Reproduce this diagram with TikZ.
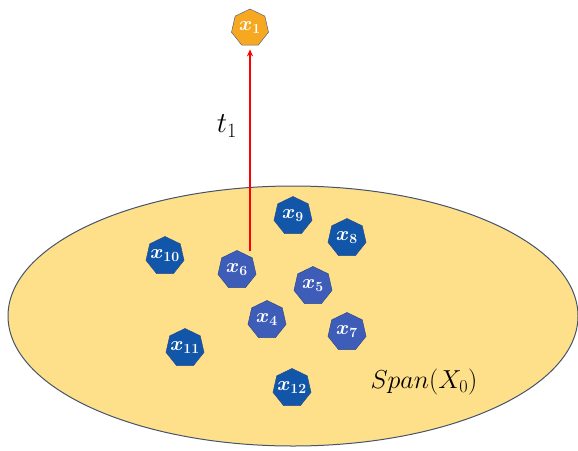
\RequirePackage{fix-cm}
\documentclass[tikz,border=0pt]{standalone}
\usetikzlibrary{shapes.geometric,arrows.meta}
\definecolor{spanfill}{HTML}{FFE08A}
\definecolor{spanline}{HTML}{44546A}
\definecolor{darkblue}{HTML}{1156A8}
\definecolor{midblue}{HTML}{3D5DB9}
\definecolor{hepline}{HTML}{2F4C8C}
\definecolor{orangefill}{HTML}{F6A820}
\definecolor{orangeline}{HTML}{5B6578}
\newcommand\hlab[1]{\makebox[0pt]{$#1$}}
\tikzset{
  hep/.style={regular polygon, regular polygon sides=7, minimum size=39pt, inner sep=0pt,
    text=white, font=\fontsize{20}{22}\selectfont\boldmath, line width=0.5pt},
  hepdark/.style={hep, fill=darkblue, draw=hepline},
  heplight/.style={hep, fill=midblue, draw=hepline},
  heporange/.style={hep, fill=orangefill, draw=orangeline, minimum size=38pt},
  spanarea/.style={ellipse, fill=spanfill, draw=spanline, line width=1pt, minimum width=570pt, minimum height=260pt, inner sep=0pt},
  redarrow/.style={draw=red, line width=1.2pt, -{Stealth[length=7pt,width=6pt]}},
  biglabel/.style={font=\fontsize{26}{30}\selectfont, inner sep=0pt},
  tlabel/.style={font=\fontsize{29}{33}\selectfont, inner sep=0pt}
}
\begin{document}
\begin{tikzpicture}[x=1pt,y=-1pt]
\useasboundingbox (0,0) rectangle (578,450);
\node[spanarea] (span) at (293,316) {};
\node[heporange] (x1) at (250,28) {\hlab{x_1}};
\node[hepdark] (x9) at (293,216) {\hlab{x_9}};
\node[hepdark] (x8) at (347,238) {\hlab{x_8}};
\node[hepdark] (x10) at (165,256) {\hlab{x_{10}}};
\node[heplight] (x6) at (237,270) {\hlab{x_6}};
\node[heplight] (x5) at (313,286) {\hlab{x_5}};
\node[heplight] (x4) at (267,320) {\hlab{x_4}};
\node[heplight] (x7) at (347,332) {\hlab{x_7}};
\node[hepdark] (x11) at (185,348) {\hlab{x_{11}}};
\node[hepdark] (x12) at (292,388) {\hlab{x_{12}}};
\coordinate (start) at (250,251);
\draw[redarrow] (start) -- ([yshift=-4pt]x1.south);
\node[tlabel] (t1) at (227,126) {$t_1$};
\node[biglabel] (spanlabel) at (424,382) {$Span(X_0)$};
\end{tikzpicture}
\end{document}
